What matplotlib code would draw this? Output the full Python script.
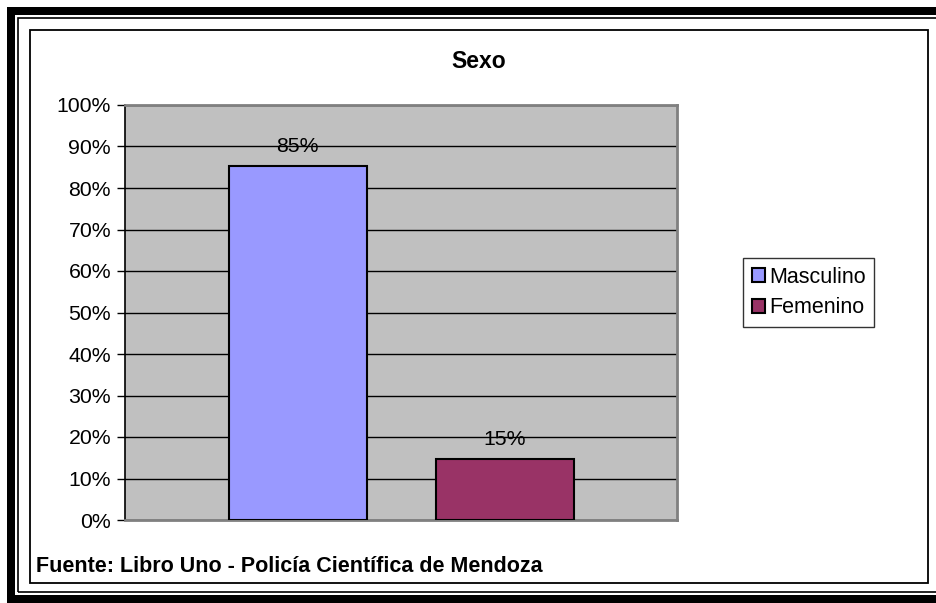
import matplotlib
matplotlib.use('Agg')
import matplotlib.pyplot as plt
from matplotlib.patches import Rectangle, Patch

plt.rcParams['font.family'] = ['Liberation Sans', 'DejaVu Sans']

# data
categorias = ['Masculino', 'Femenino']
porcentajes = [85.3, 14.7]
etiquetas = ['85%', '15%']
colores = ['#9999FF', '#993366']
yticks = list(range(0, 101, 10))

W, H = 936, 603
fig = plt.figure(figsize=(W / 100, H / 100), dpi=100)


def fx(px):
    return px / W


def fy(py):
    return 1 - py / H


# double frame around the picture (the right side runs off the image)
fig.add_artist(Rectangle((fx(7), fy(603)), fx(940), fy(7) - fy(603), transform=fig.transFigure,
                         facecolor='black', edgecolor='none', zorder=0))
fig.add_artist(Rectangle((fx(15), fy(595)), fx(940), fy(15) - fy(595), transform=fig.transFigure,
                         facecolor='white', edgecolor='none', zorder=0))
fig.add_artist(Rectangle((fx(18), fy(592)), fx(940), fy(18) - fy(592), transform=fig.transFigure,
                         facecolor='none', edgecolor='black', linewidth=1.2, zorder=1))
fig.add_artist(Rectangle((fx(29.5), fy(583)), fx(928) - fx(29.5), fy(29.5) - fy(583),
                         transform=fig.transFigure, facecolor='white', edgecolor='black',
                         linewidth=1.3, zorder=1))

ax = fig.add_axes([fx(125), fy(520), fx(677) - fx(125), fy(105) - fy(520)])
ax.set_zorder(2)
ax.set_facecolor('#C0C0C0')

# one category, two series: bars at 1.25 and 2.75 on a 0..4 scale
pos = [1.25, 2.75]
ax.bar(pos, porcentajes, width=1.0, color=colores, edgecolor='black', linewidth=1.5, zorder=3)
for x, v, t in zip(pos, porcentajes, etiquetas):
    ax.text(x, v + 2.4, t, ha='center', va='bottom', fontsize=15.3, zorder=4)

ax.set_xlim(0, 4)
ax.set_ylim(0, 100)
ax.set_yticks(yticks)
ax.set_yticklabels([f'{t}%' for t in yticks], fontsize=15.3)
ax.set_xticks([])
ax.yaxis.grid(True, color='black', linewidth=1.0)
ax.set_axisbelow(True)
ax.tick_params(axis='y', length=6, width=1, pad=4, color='black')
for s in ['top', 'right', 'bottom']:
    ax.spines[s].set_color('#808080')
    ax.spines[s].set_linewidth(2)
ax.spines['left'].set_color('black')
ax.spines['left'].set_linewidth(1.2)

fig.text(fx(479), fy(62), 'Sexo', ha='center', va='center', fontsize=16.5, fontweight='bold')
fig.text(fx(36), fy(566), 'Fuente: Libro Uno - Policía Científica de Mendoza',
         ha='left', va='center', fontsize=15.5, fontweight='bold')

handles = [Patch(facecolor=c, edgecolor='black', linewidth=1.5) for c in colores]
leg = fig.legend(handles, categorias, loc='upper left', bbox_to_anchor=(fx(743), fy(258)),
                 fontsize=15.5, frameon=True, fancybox=False, shadow=False,
                 handlelength=0.6, handleheight=0.6, handletextpad=0.2,
                 borderpad=0.4, labelspacing=0.45, borderaxespad=0)
leg.get_frame().set_edgecolor('black')
leg.get_frame().set_linewidth(1.0)
leg.set_zorder(5)

fig.savefig('out.png', dpi=100)
